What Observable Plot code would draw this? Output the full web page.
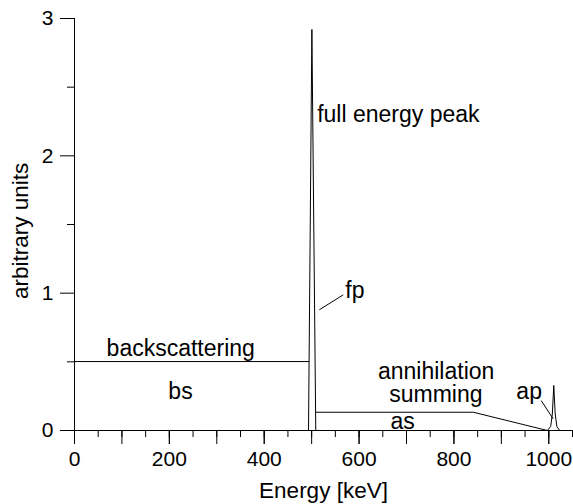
<!DOCTYPE html>
<html><head><meta charset="utf-8">
<script src="https://cdn.jsdelivr.net/npm/d3@7"></script>
<script src="https://cdn.jsdelivr.net/npm/@observablehq/plot@0.6"></script>
<style>body{margin:0;background:#fff} svg{display:block}</style>
</head><body><div id="chart"></div>
<script>
// backscattering plateau
const bsEnergy = [0, 494];
const bsValue = [0.502, 0.502];
// full energy peak
const fpEnergy = [493.4, 500.5, 508.7];
const fpValue = [0, 2.92, 0];
// annihilation summing plateau + annihilation peak
const asEnergy = [508.3, 841, 997, 1004, 1007.5, 1010.5, 1013.5, 1017, 1023, 1030];
const asValue = [0.133, 0.133, 0, 0.03, 0.12, 0.328, 0.12, 0.03, 0, 0];

// annotations (left-anchored)
const leftText = ["full energy peak", "fp"];
const leftEnergy = [511.6, 571];
const leftValue = [2.243, 0.968];
// annotations (centred)
const midText = ["backscattering", "bs", "annihilation", "summing", "as", "ap"];
const midEnergy = [224, 223.5, 762.5, 762, 691.6, 958.6];
const midValue = [0.546, 0.233, 0.376, 0.204, 0.012, 0.233];

const leaderE1 = [516.2, 984];
const leaderV1 = [0.879, 0.218];
const leaderE2 = [566.7, 1009.2];
const leaderV2 = [0.988, 0.085];

const xMajor = d3.range(0, 1001, 100);
const xMinor = d3.range(0, 1051, 50);
const xLabeled = d3.range(0, 1001, 200);
const yMajor = [0, 1, 2, 3];
const yMinor = [0.5, 1.5, 2.5];

const toRows = (E, V) => E.map((e, i) => ({e, v: V[i]}));
const toLabels = (T, E, V) => T.map((t, i) => ({t, e: E[i], v: V[i]}));
const leaders = leaderE1.map((e, i) => ({e1: e, v1: leaderV1[i], e2: leaderE2[i], v2: leaderV2[i]}));

const font = "'Liberation Sans', Arial, Helvetica, sans-serif";
const fmt = d3.format("d");

const plot = Plot.plot({
  width: 573, height: 504,
  marginLeft: 74, marginRight: 1, marginTop: 18, marginBottom: 74,
  style: {fontFamily: font, fontSize: "21px", background: "#fff", color: "#000", overflow: "visible"},
  x: {domain: [0, 1050]},
  y: {domain: [0, 3]},
  marks: [
    Plot.axisX({ticks: xMinor, tickSize: 7, text: null, label: null}),
    Plot.axisX({ticks: xMajor, tickSize: 14, text: null, label: null}),
    Plot.axisX({ticks: xLabeled, tickSize: 14, tickPadding: 7, tickFormat: fmt, label: null, fontSize: 21}),
    Plot.axisY({ticks: yMinor, tickSize: 7, text: null, label: null}),
    Plot.axisY({ticks: yMajor, tickSize: 14, tickPadding: 7, tickFormat: fmt, label: null, fontSize: 21}),
    Plot.ruleX([0], {y1: 0, y2: 3, stroke: "#000"}),
    Plot.ruleY([0], {stroke: "#000"}),
    Plot.line(toRows(bsEnergy, bsValue), {x: "e", y: "v", stroke: "#000", strokeWidth: 1}),
    Plot.line(toRows(fpEnergy, fpValue), {x: "e", y: "v", stroke: "#000", strokeWidth: 1}),
    Plot.line(toRows(asEnergy, asValue), {x: "e", y: "v", stroke: "#000", strokeWidth: 1}),
    Plot.link(leaders, {x1: "e1", y1: "v1", x2: "e2", y2: "v2", stroke: "#000", strokeWidth: 1}),
    Plot.text(toLabels(leftText, leftEnergy, leftValue), {x: "e", y: "v", text: "t", textAnchor: "start", lineAnchor: "bottom", fontSize: 23, fill: "#000"}),
    Plot.text(toLabels(midText, midEnergy, midValue), {x: "e", y: "v", text: "t", textAnchor: "middle", lineAnchor: "bottom", fontSize: 23, fill: "#000"}),
    Plot.text(["Energy [keV]"], {frameAnchor: "bottom", dy: 67, lineAnchor: "bottom", fontSize: 22.5, fill: "#000"}),
    Plot.text(["arbitrary units"], {x: -99, y: 1.453, rotate: -90, lineAnchor: "bottom", textAnchor: "middle", fontSize: 22.5, fill: "#000"})
  ]
});
document.getElementById("chart").appendChild(plot);
</script>
</body></html>
